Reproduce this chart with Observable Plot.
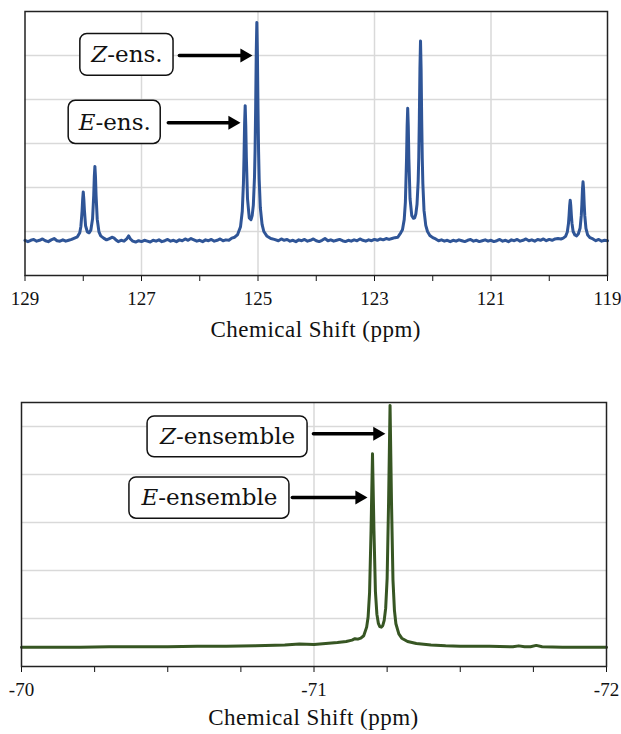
<!DOCTYPE html>
<html>
<head>
<meta charset="utf-8">
<script src="https://cdn.jsdelivr.net/npm/d3@7"></script>
<script src="https://cdn.jsdelivr.net/npm/@observablehq/plot@0.6"></script>
<style>
  body { margin: 0; background: white; }
  #wrap { position: relative; width: 621px; height: 734px; background: white; overflow: hidden; }
  .panel { position: absolute; left: 0; }
  .xtitle { position: absolute; text-align: center; font-family: "Liberation Serif", "Times New Roman", serif; font-size: 23px; letter-spacing: 0.5px; line-height: 26px; color: #111; }
</style>
</head>
<body>
<div id="wrap">
  <div id="top" class="panel" style="top:0px"></div>
  <div class="xtitle" style="top:317px; left:24.5px; width:582.5px">Chemical Shift (ppm)</div>
  <div id="bottom" class="panel" style="top:380px"></div>
  <div class="xtitle" style="top:705px; left:21px; width:585px">Chemical Shift (ppm)</div>
</div>
<script>
// ---------------- Top spectrum (blue) ----------------
const shiftTop = [
  129.00,128.95,128.90,128.85,128.80,128.75,128.70,128.65,128.60,128.55,128.50,128.45,128.40,128.35,128.30,128.25,
  128.20,128.10,128.06,128.04,128.02,128.01,128.00,127.99,127.98,127.96,127.93,127.90,127.87,127.84,127.82,127.81,127.80,127.79,127.78,127.76,127.73,127.70,127.65,
  127.60,127.55,127.50,127.47,127.43,127.40,127.35,127.30,127.25,127.22,127.19,127.15,127.10,127.05,127.00,126.95,126.90,126.85,126.80,126.75,126.70,126.65,126.60,126.55,126.50,126.45,126.40,126.35,126.30,126.25,126.20,126.15,126.10,126.05,126.00,125.95,125.90,125.85,125.80,125.75,125.70,125.65,125.60,125.55,125.50,
  125.45,125.40,125.35,125.30,125.27,125.25,125.24,125.23,125.22,125.21,125.20,125.18,125.15,125.12,125.10,125.08,125.06,125.05,125.04,125.03,125.02,125.01,125.00,124.99,124.98,124.96,124.93,124.90,124.85,124.78,124.72,
  124.65,124.60,124.55,124.50,124.45,124.40,124.35,124.30,124.25,124.20,124.15,124.10,124.05,124.00,123.95,123.90,123.85,123.80,123.75,123.70,123.65,123.60,123.55,123.50,123.45,123.40,123.35,123.30,123.25,123.20,123.15,123.10,123.05,123.00,122.95,122.90,122.85,122.80,122.75,
  122.70,122.65,122.60,122.55,122.52,122.49,122.47,122.45,122.44,122.43,122.42,122.41,122.39,122.36,122.33,122.31,122.29,122.27,122.25,122.24,122.23,122.22,122.21,122.20,122.19,122.18,122.17,122.15,122.12,122.09,122.05,122.00,
  121.95,121.90,121.85,121.80,121.75,121.70,121.65,121.60,121.55,121.50,121.45,121.40,121.35,121.30,121.25,121.20,121.15,121.10,121.05,121.00,120.95,120.90,120.85,120.80,120.75,120.70,120.65,120.60,120.55,120.50,120.45,120.40,120.35,120.30,120.25,120.20,120.15,120.10,120.05,120.00,119.95,119.90,
  119.85,119.80,119.76,119.72,119.69,119.67,119.66,119.65,119.64,119.63,119.62,119.61,119.59,119.56,119.53,119.50,119.47,119.45,119.44,119.43,119.42,119.41,119.40,119.39,119.37,119.34,119.30,119.25,
  119.20,119.15,119.10,119.05,119.00
];
const intensityTop = [
  0.80,0.77,0.80,0.82,0.78,0.80,0.83,0.79,0.77,0.81,0.84,0.79,0.78,0.81,0.78,0.80,
  0.82,0.88,0.97,1.12,1.47,1.73,1.90,1.73,1.48,1.13,0.99,0.97,1.03,1.29,1.83,2.25,2.48,2.24,1.82,1.28,0.99,0.90,0.85,
  0.81,0.84,0.87,0.85,0.80,0.77,0.80,0.78,0.84,0.90,0.83,0.78,0.76,0.79,0.77,0.80,0.78,0.76,0.80,0.78,0.81,0.77,0.79,0.82,0.78,0.80,0.77,0.81,0.79,0.83,0.80,0.84,0.81,0.78,0.80,0.77,0.81,0.79,0.82,0.78,0.80,0.83,0.79,0.81,0.80,
  0.85,0.87,0.93,1.11,1.46,2.10,2.70,3.45,3.86,3.40,2.68,1.74,1.31,1.27,1.36,1.60,2.24,2.86,3.84,5.06,5.75,5.02,3.80,2.81,2.19,1.54,1.16,1.00,0.90,0.84,0.82,
  0.79,0.83,0.80,0.82,0.78,0.80,0.77,0.81,0.79,0.82,0.78,0.80,0.83,0.79,0.77,0.80,0.84,0.79,0.81,0.78,0.80,0.82,0.79,0.77,0.80,0.78,0.81,0.79,0.83,0.80,0.78,0.81,0.79,0.82,0.80,0.83,0.81,0.84,0.82,
  0.84,0.86,0.87,0.97,1.04,1.27,1.66,2.64,3.38,3.80,3.39,2.65,1.75,1.36,1.30,1.31,1.40,1.62,2.15,2.69,3.58,4.70,5.33,4.70,3.56,2.67,2.09,1.48,1.14,1.00,0.91,0.86,
  0.83,0.79,0.81,0.78,0.80,0.77,0.80,0.78,0.81,0.79,0.77,0.80,0.82,0.78,0.80,0.77,0.79,0.81,0.78,0.80,0.77,0.79,0.82,0.78,0.80,0.77,0.81,0.79,0.82,0.78,0.80,0.83,0.79,0.81,0.78,0.82,0.80,0.83,0.79,0.82,0.80,0.83,
  0.84,0.83,0.85,0.89,0.99,1.18,1.36,1.58,1.71,1.58,1.36,1.19,1.00,0.92,0.90,0.95,1.08,1.36,1.62,1.95,2.13,1.95,1.62,1.36,1.07,0.92,0.86,0.83,
  0.79,0.82,0.78,0.80,0.79
];

// ---------------- Bottom spectrum (green) ----------------
const shiftBottom = [
  -70.00,-70.10,-70.20,-70.30,-70.40,-70.50,-70.60,-70.70,-70.80,-70.90,-70.95,-71.00,-71.04,-71.08,-71.11,-71.13,-71.14,-71.15,-71.16,-71.17,
  -71.18,-71.185,-71.19,-71.195,-71.20,-71.205,-71.21,-71.215,-71.22,-71.225,-71.23,-71.235,-71.24,-71.245,-71.25,-71.255,-71.26,-71.265,-71.27,-71.275,-71.28,-71.29,-71.30,
  -71.32,-71.35,-71.40,-71.45,-71.50,-71.60,-71.68,-71.70,-71.72,-71.74,-71.76,-71.78,-71.85,-71.95,-72.00
];
const intensityBottom = [
  0.40,0.40,0.40,0.41,0.41,0.41,0.42,0.42,0.43,0.45,0.47,0.46,0.48,0.50,0.52,0.55,0.58,0.57,0.59,0.64,
  0.82,1.03,1.54,2.82,4.43,2.83,1.56,1.09,0.90,0.83,0.82,0.85,0.96,1.21,1.83,3.42,5.44,3.41,1.80,1.17,0.89,0.68,0.59,
  0.52,0.48,0.45,0.43,0.42,0.42,0.41,0.43,0.41,0.41,0.44,0.41,0.40,0.40,0.40
];

// ---------------- Axes ----------------
const topTicks = [129,128,127,126,125,124,123,122,121,120,119];
const topTickLabels = [129,127,125,123,121,119];
const topGridX = [127,125,123,121];
const bottomTicks = [-70,-70.25,-70.5,-70.75,-71,-71.25,-71.5,-71.75,-72];
const bottomTickLabels = [-70,-71,-72];
const bottomGridX = [-71];
const gridLevels = [1,2,3,4,5];

// ---------------- Annotations (data units) ----------------
const topLabels = ["Z-ens.", "E-ens."];
const topBoxX1 = [128.05, 128.25], topBoxX2 = [126.45, 126.67];
const topBoxY1 = [4.54, 2.99], topBoxY2 = [5.49, 3.97];
const topArrowFrom = [126.35, 126.54], topArrowTo = [125.094, 125.30], topArrowY = [5.0, 3.47];

const bottomLabels = ["Z-ensemble", "E-ensemble"];
const bottomBoxX1 = [-70.431, -70.369], bottomBoxX2 = [-70.978, -70.916];
const bottomBoxY1 = [4.36, 3.08], bottomBoxY2 = [5.21, 3.94];
const bottomArrowFrom = [-70.998, -70.926], bottomArrowTo = [-71.244, -71.183], bottomArrowY = [4.85, 3.52];

const serif = "'Liberation Serif', 'Times New Roman', serif";

function panel(o) {
  const data = o.shift.map((x, i) => ({x, y: o.intensity[i]}));
  const ann = o.labels.map((label, i) => ({
    label, x1: o.boxX1[i], x2: o.boxX2[i], y1: o.boxY1[i], y2: o.boxY2[i],
    xc: (o.boxX1[i] + o.boxX2[i]) / 2, yc: (o.boxY1[i] + o.boxY2[i]) / 2,
    af: o.arrowFrom[i], at: o.arrowTo[i], ay: o.arrowY[i]
  }));
  const svg = Plot.plot({
    width: 621, height: o.height,
    marginTop: o.mt, marginBottom: o.mb, marginLeft: o.ml, marginRight: o.mr,
    style: {fontFamily: serif, fontSize: "19px", color: "#111", background: "white", overflow: "visible"},
    x: {domain: o.xDomain, axis: null},
    y: {domain: o.yDomain, axis: null},
    marks: [
      Plot.gridY(gridLevels, {stroke: "#d9d9d9", strokeOpacity: 1, strokeWidth: 1.5}),
      Plot.gridX(o.gridX, {stroke: "#d9d9d9", strokeOpacity: 1, strokeWidth: 1.5}),
      Plot.line(data, {x: "x", y: "y", stroke: o.color, strokeWidth: o.sw, strokeLinejoin: "round", strokeLinecap: "round"}),
      Plot.rect(ann, {x1: "x1", x2: "x2", y1: "y1", y2: "y2", rx: 7, fill: "white", stroke: "#111", strokeWidth: 1.5}),
      Plot.text(ann, {x: "xc", y: "yc", text: "label", fontFamily: "'DejaVu Serif', serif", fontSize: o.fs, fill: "#111"}),
      Plot.arrow(ann, {x1: "af", x2: "at", y1: "ay", y2: "ay", stroke: "black", strokeWidth: 3.5, headLength: 0, insetEnd: 9}),
      Plot.dot(ann, {x: "at", y: "ay", symbol: "triangle", r: 5.2, rotate: 90, fill: "black", stroke: "none", dx: -8.1}),
      Plot.axisX({ticks: o.ticks, tickSize: 6, tickPadding: 10, tickFormat: d => o.tickLabels.includes(d) ? String(d) : "", fontSize: 19, fontFamily: serif}),
      Plot.frame({stroke: "#222", strokeWidth: 1.5})
    ]
  });
  svg.querySelectorAll('g[aria-label="text"] text').forEach(t => {
    const s = t.textContent;
    t.textContent = "";
    const a = document.createElementNS("http://www.w3.org/2000/svg", "tspan");
    a.setAttribute("font-style", "italic");
    a.textContent = s[0];
    const b = document.createElementNS("http://www.w3.org/2000/svg", "tspan");
    b.textContent = s.slice(1);
    t.appendChild(a); t.appendChild(b);
  });
  return svg;
}

document.getElementById("top").appendChild(panel({
  shift: shiftTop, intensity: intensityTop, xDomain: [129, 119], yDomain: [0, 6],
  ticks: topTicks, tickLabels: topTickLabels, gridX: topGridX, color: "#2f5597", sw: 3,
  height: 345, mt: 11, mb: 70, ml: 24.5, mr: 14, fs: 23,
  labels: topLabels, boxX1: topBoxX1, boxX2: topBoxX2, boxY1: topBoxY1, boxY2: topBoxY2,
  arrowFrom: topArrowFrom, arrowTo: topArrowTo, arrowY: topArrowY
}));

document.getElementById("bottom").appendChild(panel({
  shift: shiftBottom, intensity: intensityBottom, xDomain: [-70, -72], yDomain: [0, 5.5],
  ticks: bottomTicks, tickLabels: bottomTickLabels, gridX: bottomGridX, color: "#375623", sw: 3,
  height: 354, mt: 22, mb: 68, ml: 21, mr: 15, fs: 23,
  labels: bottomLabels, boxX1: bottomBoxX1, boxX2: bottomBoxX2, boxY1: bottomBoxY1, boxY2: bottomBoxY2,
  arrowFrom: bottomArrowFrom, arrowTo: bottomArrowTo, arrowY: bottomArrowY
}));
</script>
</body>
</html>
